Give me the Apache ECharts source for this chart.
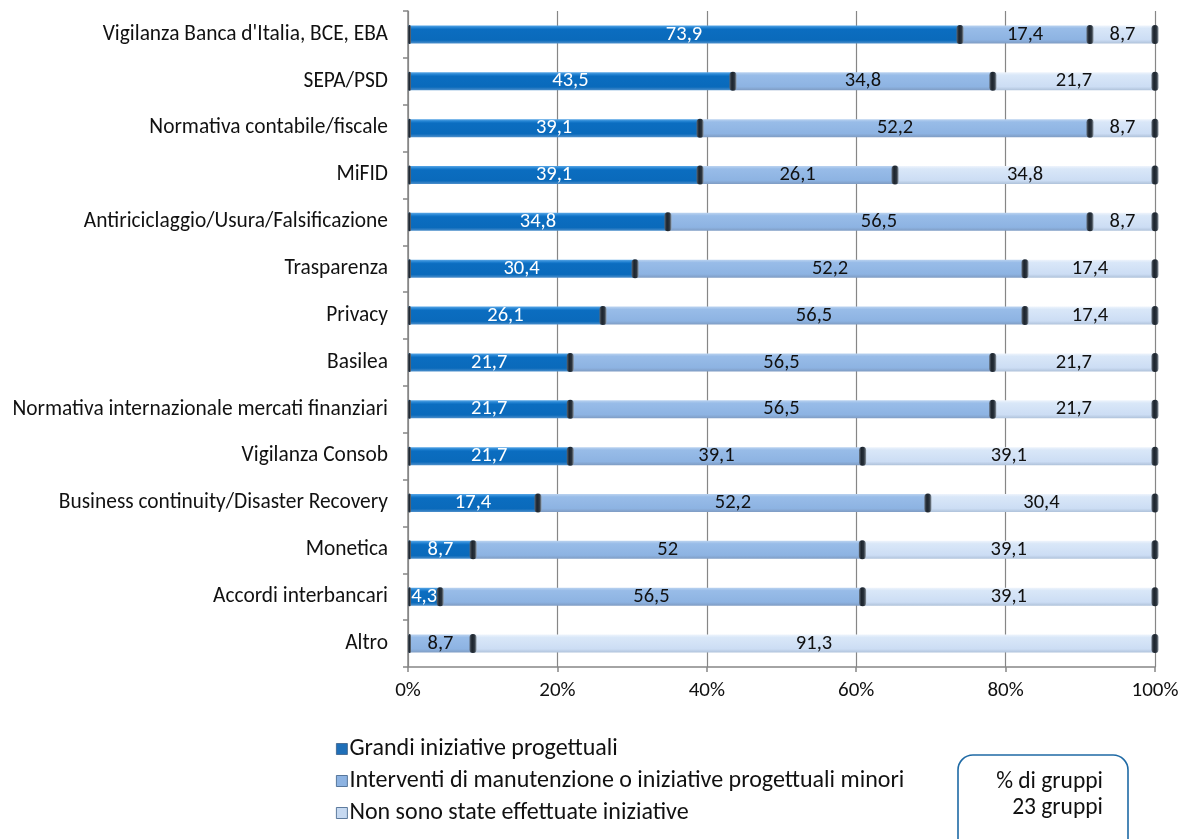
<!DOCTYPE html>
<html>
<head>
<meta charset="utf-8">
<script src="https://cdn.jsdelivr.net/npm/echarts@6/dist/echarts.min.js"></script>
<style>
  html, body { margin: 0; padding: 0; background: #ffffff; }
  #chart { width: 1191px; height: 839px; }
</style>
</head>
<body>
<div id="chart"></div>
<script>
// Categories, top to bottom
const categories = [
  "Vigilanza Banca d'Italia, BCE, EBA",
  "SEPA/PSD",
  "Normativa contabile/fiscale",
  "MiFID",
  "Antiriciclaggio/Usura/Falsificazione",
  "Trasparenza",
  "Privacy",
  "Basilea",
  "Normativa internazionale mercati finanziari",
  "Vigilanza Consob",
  "Business continuity/Disaster Recovery",
  "Monetica",
  "Accordi interbancari",
  "Altro"
];

const seriesNames = [
  "Grandi iniziative progettuali",
  "Interventi di manutenzione o iniziative progettuali minori",
  "Non sono state effettuate iniziative"
];

// Percentages of groups per category
const grandi       = [73.9, 43.5, 39.1, 39.1, 34.8, 30.4, 26.1, 21.7, 21.7, 21.7, 17.4, 8.7, 4.3, 0];
const manutenzione = [17.4, 34.8, 52.2, 26.1, 56.5, 52.2, 56.5, 56.5, 56.5, 39.1, 52.2, 52, 56.5, 8.7];
const nessuna      = [8.7, 21.7, 8.7, 34.8, 8.7, 17.4, 17.4, 21.7, 21.7, 39.1, 30.4, 39.1, 39.1, 91.3];

const xTicks = ["0%", "20%", "40%", "60%", "80%", "100%"];

const raw = [grandi, manutenzione, nessuna];
// 100% stacking: each row is scaled to its own total
const totals = categories.map((_, i) => raw.reduce((s, arr) => s + arr[i], 0));
const shares = raw.map(arr => arr.map((v, i) => v / totals[i] * 100));

function grad(stops) {
  return new echarts.graphic.LinearGradient(0, 0, 0, 1,
    stops.map(s => ({ offset: s[0], color: s[1] })));
}
const fills = [
  grad([[0, '#58A6E6'], [0.14, '#1C7ECF'], [0.22, '#0B6DC0'], [0.82, '#0A6ABB'], [1, '#4D8FCB']]),
  grad([[0, '#BBD3F0'], [0.16, '#98BCE8'], [0.8, '#8DB3E2'], [1, '#7F9CC3']]),
  grad([[0, '#EEF4FC'], [0.16, '#D9E7F8'], [0.8, '#CCDDF4'], [1, '#AFC2DA']])
];
const legendColors = ['#1F6FB8', '#8DB3E2', '#C6D9F1'];
const labelColors = ['#ffffff', '#111111', '#111111'];

function fmt(v) { return String(v).replace('.', ','); }

const font = "Carlito, 'Open Sans', 'Liberation Sans', sans-serif";

const barSeries = shares.map((arr, k) => ({
  name: seriesNames[k],
  type: 'bar',
  stack: 'tot',
  barWidth: 18,
  data: arr.map((v, i) => ({ value: v, raw: raw[k][i] })),
  itemStyle: { color: fills[k] },
  label: {
    show: true,
    position: 'inside',
    color: labelColors[k],
    fontFamily: font,
    fontSize: 20.5,
    formatter: p => (p.data.raw > 0 ? fmt(p.data.raw) : '')
  },
  emphasis: { disabled: true }
}));

// Dark rounded caps at each segment end, positioned through the axes
const capData = categories.map((_, i) => {
  let acc = 0;
  const b = [0];
  shares.forEach(arr => { if (arr[i] > 0) { acc += arr[i]; b.push(acc); } });
  return [i].concat(b);
});

const capSeries = {
  type: 'custom',
  silent: true,
  z: 5,
  data: capData,
  encode: { y: 0, x: 1 },
  renderItem: function (params, api) {
    const row = api.value(0);
    const children = [];
    const n = capData[params.dataIndex].length;
    for (let j = 1; j < n; j++) {
      const x = api.value(j);
      const pt = api.coord([x, row]);
      const h = 19;
      const w = j === 1 ? 3 : 7;
      const cx = j === 1 ? pt[0] + 1.5 : pt[0];
      children.push({
        type: 'rect',
        shape: { x: cx - w / 2, y: pt[1] - h / 2, width: w, height: h, r: [w / 2, w / 2, w / 2, w / 2] },
        style: {
          fill: new echarts.graphic.LinearGradient(0, 0, 1, 0, [
            { offset: 0, color: '#5A6470' },
            { offset: 0.35, color: '#1B232C' },
            { offset: 0.7, color: '#2A333D' },
            { offset: 1, color: '#8A949E' }
          ])
        }
      });
    }
    return { type: 'group', children: children };
  }
};

const chart = echarts.init(document.getElementById('chart'), null, { renderer: 'canvas' });

chart.setOption({
  animation: false,
  backgroundColor: '#ffffff',
  grid: { left: 408, right: 36, top: 11, bottom: 172, containLabel: false },
  xAxis: {
    type: 'value',
    min: 0,
    max: 100,
    interval: 20,
    axisLine: { show: true, lineStyle: { color: '#868686', width: 1.5 } },
    axisTick: { show: true, length: 5, lineStyle: { color: '#868686', width: 1.5 } },
    splitLine: { show: true, lineStyle: { color: '#868686', width: 1.2 } },
    axisLabel: {
      margin: 13,
      color: '#111111',
      fontFamily: font,
      fontSize: 21,
      formatter: v => xTicks[Math.round(v / 20)]
    }
  },
  yAxis: {
    type: 'category',
    inverse: true,
    data: categories,
    axisLine: { show: true, lineStyle: { color: '#868686', width: 1.5 } },
    axisTick: { show: true, length: 5, alignWithLabel: false, lineStyle: { color: '#868686', width: 1.5 } },
    axisLabel: {
      margin: 20,
      color: '#111111',
      fontFamily: font,
      fontSize: 21.4
    }
  },
  legend: {
    orient: 'vertical',
    left: 331,
    top: 732,
    itemGap: 8,
    itemWidth: 11,
    itemHeight: 11,
    icon: 'rect',
    selectedMode: false,
    data: seriesNames.map((n, k) => ({
      name: n,
      itemStyle: { color: legendColors[k], borderColor: '#3B5E86', borderWidth: 0.8 }
    })),
    textStyle: { color: '#111111', fontFamily: font, fontSize: 24, padding: [0, 0, 0, -3] }
  },
  graphic: [
    {
      type: 'rect',
      shape: { x: 958, y: 755, width: 170, height: 110, r: 15 },
      style: { fill: '#ffffff', stroke: '#1F6AA5', lineWidth: 1.6 }
    },
    {
      type: 'text',
      style: {
        x: 1103, y: 782, text: '% di gruppi', align: 'right', verticalAlign: 'middle',
        fill: '#111111', font: '23.5px ' + font
      }
    },
    {
      type: 'text',
      style: {
        x: 1103, y: 808, text: '23 gruppi', align: 'right', verticalAlign: 'middle',
        fill: '#111111', font: '23.5px ' + font
      }
    }
  ],
  series: barSeries.concat([capSeries])
});
</script>
</body>
</html>
